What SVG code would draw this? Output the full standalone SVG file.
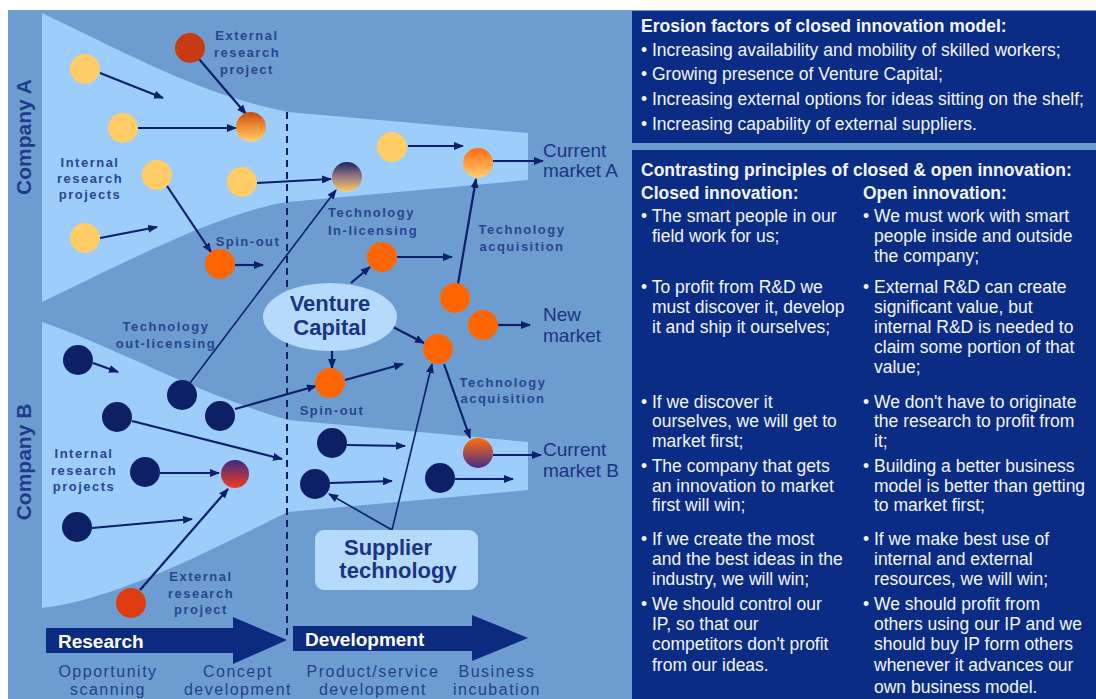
<svg xmlns="http://www.w3.org/2000/svg" width="1096" height="699" viewBox="0 0 1096 699">
<defs>
<marker id="ah" viewBox="0 0 10 8" refX="9" refY="4" markerWidth="10" markerHeight="8" markerUnits="userSpaceOnUse" orient="auto"><path d="M0,0 L10,4 L0,8 Z" fill="#0b1f6b"/></marker>
<linearGradient id="g1" x1="0" y1="0" x2="0" y2="1"><stop offset="0" stop-color="#c44a14"/><stop offset="0.45" stop-color="#f08a30"/><stop offset="1" stop-color="#ffd070"/></linearGradient>
<linearGradient id="g2" x1="0" y1="0" x2="0" y2="1"><stop offset="0" stop-color="#1c2266"/><stop offset="0.5" stop-color="#9a7a80"/><stop offset="1" stop-color="#ffcc66"/></linearGradient>
<linearGradient id="g3" x1="0" y1="0" x2="0" y2="1"><stop offset="0" stop-color="#ff6a10"/><stop offset="1" stop-color="#ffd070"/></linearGradient>
<linearGradient id="g4" x1="0" y1="0" x2="0" y2="1"><stop offset="0" stop-color="#3a2a88"/><stop offset="1" stop-color="#f03a1e"/></linearGradient>
<linearGradient id="g5" x1="0" y1="0" x2="0" y2="1"><stop offset="0" stop-color="#ff6e10"/><stop offset="1" stop-color="#4a2a88"/></linearGradient>
</defs>
<style>
.yel{fill:#ffcc66}
.org{fill:#ff6600}
.nav{fill:#0d2066}
.conn{stroke:#0b1f6b;stroke-width:2.2;fill:none;marker-end:url(#ah)}
.thin{stroke-width:1.6}
.lbl{font-family:"Liberation Sans",Arial,sans-serif;font-weight:bold;font-size:13px;letter-spacing:1.5px;fill:#27468f;text-anchor:middle}
.big{font-family:"Liberation Sans",Arial,sans-serif;font-weight:bold;font-size:22px;fill:#1b3482;text-anchor:middle}
.mkt{font-family:"Liberation Sans",Arial,sans-serif;font-size:19px;fill:#1b3482}
.comp{font-family:"Liberation Sans",Arial,sans-serif;font-weight:bold;font-size:21px;fill:#1f3c8c;text-anchor:middle}
.stage{font-family:"Liberation Sans",Arial,sans-serif;font-size:16px;letter-spacing:1.5px;fill:#23418c;text-anchor:middle}
.phase{font-family:"Liberation Sans",Arial,sans-serif;font-weight:bold;font-size:19px;fill:#ffffff}
.rt{font-family:"Liberation Sans",Arial,sans-serif;font-size:17.5px;fill:#f4f6ff}
.rh{font-family:"Liberation Sans",Arial,sans-serif;font-size:17.5px;font-weight:bold;fill:#f4f6ff}
</style>
<rect x="0" y="0" width="1096" height="699" fill="#ffffff"/>
<rect x="8" y="10" width="1088" height="689" fill="#6d9dd0"/>
<g id="funnels">
<path d="M42,13 C120,50 200,95 288,112 L528,133 L528,180 L288,202 C220,212 120,265 42,302 Z" fill="#9dcdfb"/>
<path d="M42,322 C110,345 200,395 288,420 L528,442 L528,490 L288,512 C230,540 120,600 42,608 Z" fill="#9dcdfb"/>
</g>
<g id="company-labels">
<text class="comp" transform="translate(31,137) rotate(-90)">Company A</text>
<text class="comp" transform="translate(31,462) rotate(-90)">Company B</text>
</g>
<line x1="287" y1="112" x2="287" y2="640" stroke="#0b1f6b" stroke-width="2" stroke-dasharray="7,5"/>
<g id="phase-arrows">
<g id="research"><path d="M46,628 L233,628 L233,617 L287,640 L233,664 L233,653 L46,653 Z" fill="#0c2a80"/><text class="phase" x="58" y="648">Research</text></g>
<g id="development"><path d="M293,626 L472,626 L472,615 L528,638 L472,661 L472,651 L293,651 Z" fill="#0c2a80"/><text class="phase" x="305" y="646">Development</text></g>
</g>
<g id="stages">
<text class="stage" x="108" y="677">Opportunity</text><text class="stage" x="108" y="695">scanning</text>
<text class="stage" x="238" y="677">Concept</text><text class="stage" x="238" y="695">development</text>
<text class="stage" x="373" y="677">Product/service</text><text class="stage" x="373" y="695">development</text>
<text class="stage" x="497" y="677">Business</text><text class="stage" x="497" y="695">incubation</text>
</g>
<g id="connectors">
<line class="conn" x1="100" y1="73" x2="163" y2="98"/>
<line class="conn" x1="199" y1="59" x2="246" y2="114"/>
<line class="conn" x1="138" y1="128" x2="236" y2="128"/>
<line class="conn" x1="165" y1="183" x2="211" y2="252"/>
<line class="conn" x1="100" y1="238" x2="157" y2="227"/>
<line class="conn" x1="235" y1="265" x2="263" y2="265"/>
<line class="conn" x1="257" y1="183" x2="331" y2="179"/>
<line class="conn thin" x1="190" y1="383" x2="336" y2="190"/>
<line class="conn" x1="408" y1="146" x2="463" y2="146"/>
<line class="conn" x1="493" y1="161" x2="543" y2="161"/>
<line class="conn" x1="458" y1="284" x2="476" y2="179"/>
<line class="conn" x1="397" y1="257" x2="452" y2="257"/>
<line class="conn" x1="351" y1="283" x2="370" y2="267"/>
<line class="conn" x1="498" y1="325" x2="530" y2="325"/>
<line class="conn" x1="393" y1="327" x2="424" y2="343"/>
<line class="conn" x1="332" y1="350" x2="332" y2="368"/>
<line class="conn" x1="345" y1="380" x2="403" y2="364"/>
<line class="conn" x1="235" y1="409" x2="316" y2="386"/>
<line class="conn thin" x1="392" y1="530" x2="432" y2="364"/>
<line class="conn thin" x1="392" y1="530" x2="329" y2="494"/>
<line class="conn" x1="444" y1="364" x2="470" y2="438"/>
<line class="conn" x1="493" y1="455" x2="541" y2="455"/>
<line class="conn" x1="347" y1="445" x2="405" y2="446"/>
<line class="conn" x1="330" y1="483" x2="392" y2="481"/>
<line class="conn" x1="455" y1="479" x2="513" y2="479"/>
<line class="conn" x1="93" y1="363" x2="118" y2="372"/>
<line class="conn" x1="132" y1="421" x2="282" y2="459"/>
<line class="conn" x1="160" y1="473" x2="219" y2="473"/>
<line class="conn" x1="92" y1="528" x2="192" y2="519"/>
<line class="conn" x1="140" y1="590" x2="228" y2="489"/>
</g>
<g id="nodes">
<g id="ya1"><circle class="yel" cx="85" cy="69" r="15"/></g>
<g id="ya2"><circle class="yel" cx="123" cy="128" r="15"/></g>
<g id="ya3"><circle class="yel" cx="157" cy="175" r="15"/></g>
<g id="ya4"><circle class="yel" cx="85" cy="238" r="15"/></g>
<g id="ya5"><circle class="yel" cx="242" cy="182" r="15"/></g>
<g id="ya6"><circle class="yel" cx="392" cy="147" r="15"/></g>
<g id="ext-a"><circle cx="190" cy="48" r="15" fill="#c83a10"/></g>
<g id="grad-a1"><circle cx="251" cy="127" r="15" fill="url(#g1)"/></g>
<g id="grad-a2"><circle cx="347" cy="177" r="15" fill="url(#g2)"/></g>
<g id="grad-a3"><circle cx="478" cy="163" r="15" fill="url(#g3)"/></g>
<g id="spin-a"><circle class="org" cx="220" cy="264" r="15"/></g>
<g id="o1"><circle class="org" cx="382" cy="257" r="15"/></g>
<g id="o2"><circle class="org" cx="455" cy="298" r="15"/></g>
<g id="o3"><circle class="org" cx="483" cy="325" r="15"/></g>
<g id="o4"><circle class="org" cx="438" cy="349" r="15"/></g>
<g id="o5"><circle class="org" cx="330" cy="383" r="15"/></g>
<g id="nb1"><circle class="nav" cx="78" cy="360" r="15"/></g>
<g id="nb2"><circle class="nav" cx="182" cy="395" r="15"/></g>
<g id="nb3"><circle class="nav" cx="220" cy="416" r="15"/></g>
<g id="nb4"><circle class="nav" cx="117" cy="417" r="15"/></g>
<g id="nb5"><circle class="nav" cx="145" cy="472" r="15"/></g>
<g id="nb6"><circle class="nav" cx="77" cy="527" r="15"/></g>
<g id="grad-b1"><circle cx="235" cy="474" r="14" fill="url(#g4)"/></g>
<g id="ext-b"><circle cx="131" cy="603" r="15" fill="#e03a10"/></g>
<g id="nb7"><circle class="nav" cx="332" cy="443" r="15"/></g>
<g id="nb8"><circle class="nav" cx="315" cy="484" r="15"/></g>
<g id="nb9"><circle class="nav" cx="440" cy="478" r="15"/></g>
<g id="grad-b2"><circle cx="478" cy="453" r="15" fill="url(#g5)"/></g>
<g id="venture-capital"><ellipse cx="330" cy="317" rx="67" ry="34" fill="#b6dafc"/><text class="big" x="330" y="311">Venture</text><text class="big" x="330" y="335">Capital</text></g>
<g id="supplier-technology"><rect x="315" y="530" width="163" height="60" rx="9" fill="#b6dafc"/><text class="big" x="388" y="555">Supplier</text><text class="big" x="398" y="578">technology</text></g>
</g>
<g id="labels">
<text class="lbl" x="247" y="40">External</text><text class="lbl" x="247" y="57">research</text><text class="lbl" x="247" y="74">project</text>
<text class="lbl" x="90" y="167">Internal</text><text class="lbl" x="90" y="183">research</text><text class="lbl" x="90" y="199">projects</text>
<text class="lbl" x="248" y="246">Spin-out</text>
<text class="lbl" x="328" y="217" style="text-anchor:start">Technology</text><text class="lbl" x="328" y="235" style="text-anchor:start">In-licensing</text>
<text class="lbl" x="522" y="234">Technology</text><text class="lbl" x="522" y="251">acquisition</text>
<text class="lbl" x="166" y="331">Technology</text><text class="lbl" x="166" y="348">out-licensing</text>
<text class="lbl" x="332" y="415">Spin-out</text>
<text class="lbl" x="503" y="387">Technology</text><text class="lbl" x="503" y="403">acquisition</text>
<text class="lbl" x="84" y="458">Internal</text><text class="lbl" x="84" y="475">research</text><text class="lbl" x="84" y="491">projects</text>
<text class="lbl" x="201" y="581">External</text><text class="lbl" x="201" y="598">research</text><text class="lbl" x="201" y="614">project</text>
<text class="mkt" x="543" y="157">Current</text><text class="mkt" x="543" y="177">market A</text>
<text class="mkt" x="543" y="321">New</text><text class="mkt" x="543" y="342">market</text>
<text class="mkt" x="543" y="456">Current</text><text class="mkt" x="543" y="477">market B</text>
</g>
<g id="erosion-box">
<rect x="632" y="11" width="464" height="132" fill="#0b2c84"/>
<text class="rh" x="641" y="32">Erosion factors of closed innovation model:</text>
<text class="rt" x="641" y="56">• Increasing availability and mobility of skilled workers;</text>
<text class="rt" x="641" y="80">• Growing presence of Venture Capital;</text>
<text class="rt" x="641" y="105">• Increasing external options for ideas sitting on the shelf;</text>
<text class="rt" x="641" y="130">• Increasing capability of external suppliers.</text>
</g>
<g id="principles-box">
<rect x="632" y="150" width="464" height="549" fill="#0b2c84"/>
<text class="rh" x="641" y="176">Contrasting principles of closed &amp; open innovation:</text>
<text class="rh" x="641" y="199">Closed innovation:</text>
<text class="rh" x="863" y="199">Open innovation:</text>
<text class="rt" x="641" y="222">• The smart people in our</text>
<text class="rt" x="652" y="242">field work for us;</text>
<text class="rt" x="641" y="293">• To profit from R&amp;D we</text>
<text class="rt" x="652" y="313">must discover it, develop</text>
<text class="rt" x="652" y="333">it and ship it ourselves;</text>
<text class="rt" x="641" y="408">• If we discover it</text>
<text class="rt" x="652" y="427">ourselves, we will get to</text>
<text class="rt" x="652" y="447">market first;</text>
<text class="rt" x="641" y="472">• The company that gets</text>
<text class="rt" x="652" y="492">an innovation to market</text>
<text class="rt" x="652" y="511">first will win;</text>
<text class="rt" x="641" y="545">• If we create the most</text>
<text class="rt" x="652" y="565">and the best ideas in the</text>
<text class="rt" x="652" y="585">industry, we will win;</text>
<text class="rt" x="641" y="610">• We should control our</text>
<text class="rt" x="652" y="630">IP, so that our</text>
<text class="rt" x="652" y="650">competitors don't profit</text>
<text class="rt" x="652" y="671">from our ideas.</text>
<text class="rt" x="863" y="222">• We must work with smart</text>
<text class="rt" x="874" y="242">people inside and outside</text>
<text class="rt" x="874" y="262">the company;</text>
<text class="rt" x="863" y="293">• External R&amp;D can create</text>
<text class="rt" x="874" y="313">significant value, but</text>
<text class="rt" x="874" y="333">internal R&amp;D is needed to</text>
<text class="rt" x="874" y="353">claim some portion of that</text>
<text class="rt" x="874" y="373">value;</text>
<text class="rt" x="863" y="408">• We don't have to originate</text>
<text class="rt" x="874" y="427">the research to profit from</text>
<text class="rt" x="874" y="447">it;</text>
<text class="rt" x="863" y="472">• Building a better business</text>
<text class="rt" x="874" y="492">model is better than getting</text>
<text class="rt" x="874" y="511">to market first;</text>
<text class="rt" x="863" y="545">• If we make best use of</text>
<text class="rt" x="874" y="565">internal and external</text>
<text class="rt" x="874" y="585">resources, we will win;</text>
<text class="rt" x="863" y="610">• We should profit from</text>
<text class="rt" x="874" y="630">others using our IP and we</text>
<text class="rt" x="874" y="650">should buy IP form others</text>
<text class="rt" x="874" y="671">whenever it advances our</text>
<text class="rt" x="874" y="693">own business model.</text>
</g>
</svg>
